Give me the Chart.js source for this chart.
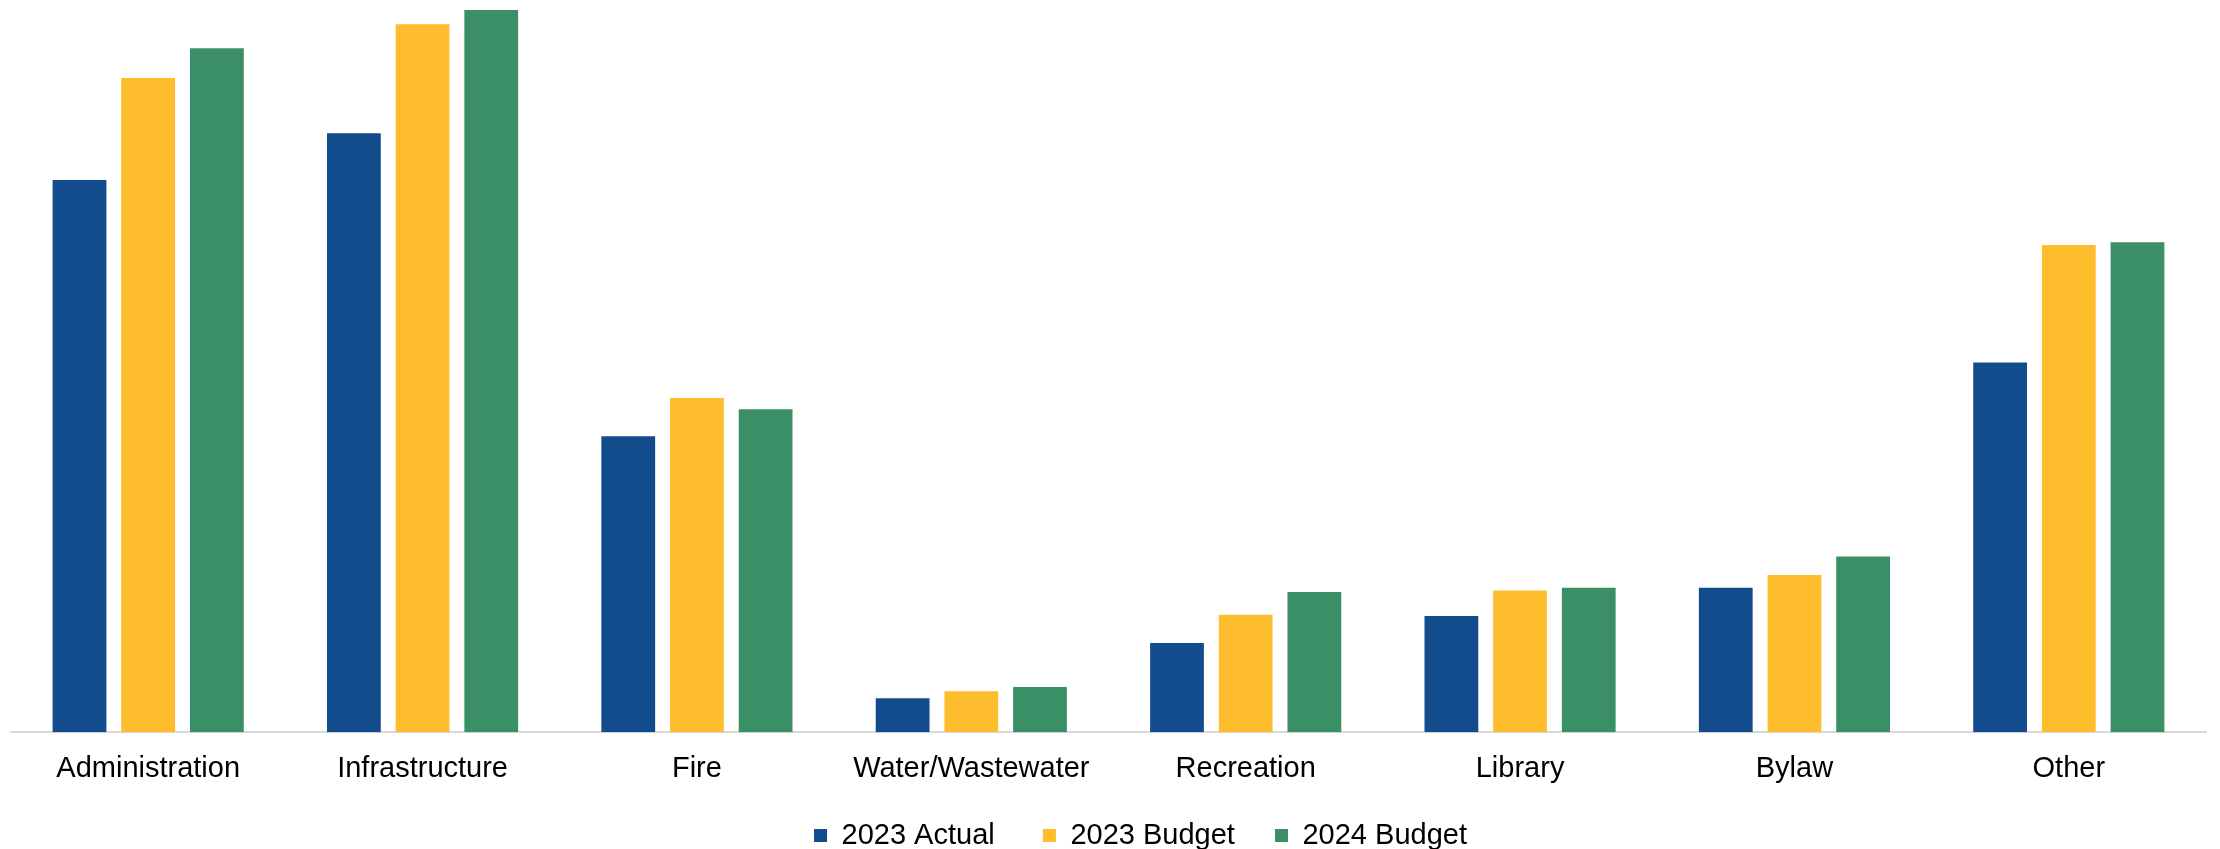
<!DOCTYPE html>
<html>
<head>
<meta charset="utf-8">
<script src="https://cdn.jsdelivr.net/npm/chart.js@4.4.1/dist/chart.umd.min.js"></script>
<style>
  html, body { margin: 0; padding: 0; background: #fff; overflow: hidden; }
  #wrap { position: relative; width: 2220px; height: 860px; }
</style>
</head>
<body>
<div id="wrap"><canvas id="budgetChart"></canvas></div>
<script>
// categories
const departments = ['Administration', 'Infrastructure', 'Fire', 'Water/Wastewater', 'Recreation', 'Library', 'Bylaw', 'Other'];

// series (relative units)
const actual2023 = [390, 423, 209, 24, 63, 82, 102, 261];
const budget2023 = [462, 500, 236, 29, 83, 100, 111, 344];
const budget2024 = [483, 510, 228, 32, 99, 102, 124, 346];

const seriesNames = ['2023 Actual', '2023 Budget', '2024 Budget'];
const seriesColors = ['#124C8C', '#FDBD2D', '#3B8F66'];

Chart.defaults.font.family = '"Liberation Sans", Arial, sans-serif';
Chart.defaults.color = '#000';

// legend sits a bit right of centre in the original
const legendShift = {
    id: 'legendShift',
    afterLayout(chart) {
        chart.legend.left += 32;
        chart.legend.right += 32;
    }
};

const gapAfter = ['   ', '  ', ''];

const ctx = document.getElementById('budgetChart').getContext('2d');
new Chart(ctx, {
    type: 'bar',
    data: {
        labels: departments,
        datasets: [actual2023, budget2023, budget2024].map((vals, i) => ({
            label: seriesNames[i],
            data: vals,
            backgroundColor: seriesColors[i],
            borderWidth: 0,
            categoryPercentage: 0.751,
            barPercentage: 0.783
        }))
    },
    options: {
        responsive: true,
        maintainAspectRatio: false,
        animation: false,
        layout: { padding: { top: 10, left: 11, right: 14, bottom: 0 } },
        plugins: {
            tooltip: { enabled: false },
            legend: {
                position: 'bottom',
                labels: {
                    boxWidth: 13,
                    boxHeight: 13,
                    padding: 24,
                    font: { size: 29 },
                    generateLabels(chart) {
                        const items = Chart.defaults.plugins.legend.labels.generateLabels(chart);
                        // wider gap between entries
                        items.forEach((it, i) => { it.text += gapAfter[i] || ''; });
                        return items;
                    }
                }
            }
        },
        scales: {
            x: {
                grid: { display: false },
                border: { display: true, color: '#d9d9d9', width: 2 },
                ticks: { font: { size: 29 }, padding: 11, maxRotation: 0 }
            },
            y: {
                display: false,
                min: 0,
                max: 510
            }
        }
    },
    plugins: [legendShift]
});
</script>
</body>
</html>
